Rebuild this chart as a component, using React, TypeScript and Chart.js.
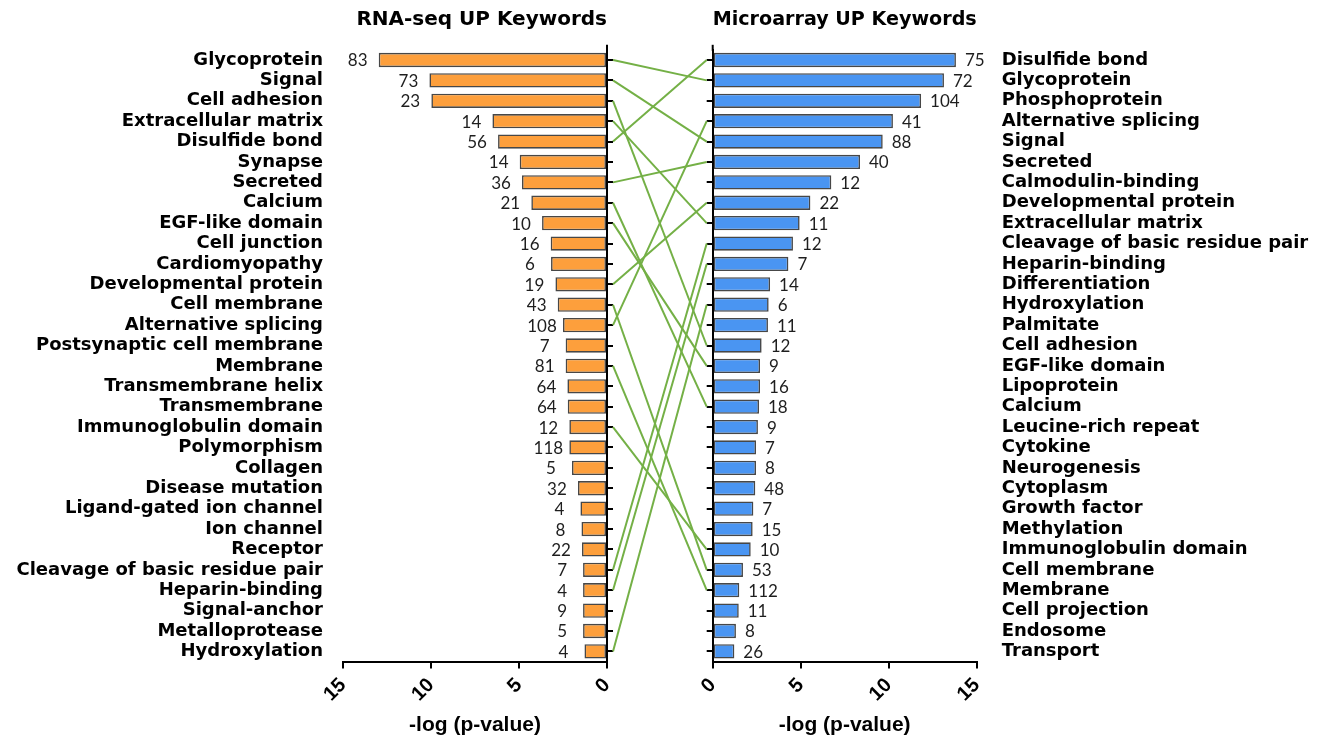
import React, { useEffect, useRef } from 'react';
import { Chart, registerables } from 'chart.js';

Chart.register(...registerables);

const leftKeywords = [
  'Glycoprotein', 'Signal', 'Cell adhesion', 'Extracellular matrix', 'Disulfide bond',
  'Synapse', 'Secreted', 'Calcium', 'EGF-like domain', 'Cell junction',
  'Cardiomyopathy', 'Developmental protein', 'Cell membrane', 'Alternative splicing', 'Postsynaptic cell membrane',
  'Membrane', 'Transmembrane helix', 'Transmembrane', 'Immunoglobulin domain', 'Polymorphism',
  'Collagen', 'Disease mutation', 'Ligand-gated ion channel', 'Ion channel', 'Receptor',
  'Cleavage of basic residue pair', 'Heparin-binding', 'Signal-anchor', 'Metalloprotease', 'Hydroxylation',
];
const leftValues = [
  12.97, 10.09, 9.98, 6.51, 6.19, 4.96, 4.83, 4.3, 3.69, 3.2,
  3.18, 2.93, 2.8, 2.5, 2.35, 2.35, 2.25, 2.23, 2.14, 2.14,
  1.99, 1.65, 1.51, 1.45, 1.42, 1.36, 1.36, 1.36, 1.36, 1.28,
];
const leftCounts = [
  83, 73, 23, 14, 56, 14, 36, 21, 10, 16,
  6, 19, 43, 108, 7, 81, 64, 64, 12, 118,
  5, 32, 4, 8, 22, 7, 4, 9, 5, 4,
];

const rightKeywords = [
  'Disulfide bond', 'Glycoprotein', 'Phosphoprotein', 'Alternative splicing', 'Signal',
  'Secreted', 'Calmodulin-binding', 'Developmental protein', 'Extracellular matrix', 'Cleavage of basic residue pair',
  'Heparin-binding', 'Differentiation', 'Hydroxylation', 'Palmitate', 'Cell adhesion',
  'EGF-like domain', 'Lipoprotein', 'Calcium', 'Leucine-rich repeat', 'Cytokine',
  'Neurogenesis', 'Cytoplasm', 'Growth factor', 'Methylation', 'Immunoglobulin domain',
  'Cell membrane', 'Membrane', 'Cell projection', 'Endosome', 'Transport',
];
const rightValues = [
  13.82, 13.14, 11.84, 10.24, 9.66, 8.37, 6.74, 5.55, 4.94, 4.56,
  4.3, 3.26, 3.18, 3.14, 2.78, 2.69, 2.69, 2.63, 2.57, 2.46,
  2.46, 2.42, 2.31, 2.27, 2.16, 1.72, 1.51, 1.48, 1.32, 1.23,
];
const rightCounts = [
  75, 72, 104, 41, 88, 40, 12, 22, 11, 12,
  7, 14, 6, 11, 12, 9, 16, 18, 9, 7,
  8, 48, 7, 15, 10, 53, 112, 11, 8, 26,
];

const xTicks = [0, 5, 10, 15];

const H = 741;
const LEFT_W = 640;
const RIGHT_X = 600;
const RIGHT_W = 729;
const AREA_BOTTOM = 661.6;

const labelFont = { family: 'DejaVu Sans', weight: 'bold' as const, size: 18 };
const tickFont = { family: 'Liberation Sans', weight: 'bold' as const, size: 20 };
const titleFont = { family: 'DejaVu Sans', weight: 'bold' as const, size: 20 };
const axisTitleFont = { family: 'Liberation Sans', weight: 'bold' as const, size: 21 };

function xScale(reverse: boolean) {
  return {
    type: 'linear' as const,
    position: 'bottom' as const,
    min: 0,
    max: 15,
    reverse,
    afterBuildTicks: (s: any) => {
      s.ticks = xTicks.map((v) => ({ value: v }));
    },
    ticks: {
      minRotation: 45,
      maxRotation: 45,
      padding: 5,
      font: tickFont,
      color: '#000',
    },
    grid: { drawOnChartArea: false, drawTicks: true, tickLength: 7, color: '#000', lineWidth: 2 },
    border: { display: true, color: '#000', width: 2 },
    title: {
      display: true,
      text: '-log (p-value)',
      font: axisTitleFont,
      color: '#000',
      padding: { top: 0, bottom: 3 },
    },
    afterFit: (s: any) => {
      s.height = H - AREA_BOTTOM;
    },
  };
}

function axisScale(position: 'left' | 'right', width: number) {
  return {
    type: 'category' as const,
    position,
    offset: true,
    grid: { offset: false, drawOnChartArea: false, drawTicks: true, tickLength: 6, color: '#000', lineWidth: 2 },
    ticks: { display: false, autoSkip: false },
    border: { display: true, color: '#000', width: 2 },
    afterFit: (s: any) => {
      s.width = width;
    },
  };
}

function labelScale(position: 'left' | 'right', width: number, padding: number) {
  return {
    type: 'category' as const,
    position,
    offset: true,
    grid: { display: false, drawTicks: false },
    border: { display: false },
    ticks: { autoSkip: false, padding, font: labelFont, color: '#000' },
    afterFit: (s: any) => {
      s.width = width;
    },
  };
}

function valueLabelPlugin(counts: number[], side: 'left' | 'right') {
  return {
    id: 'valueLabels',
    afterDatasetsDraw(chart: any) {
      const ctx = chart.ctx;
      const meta = chart.getDatasetMeta(0);
      ctx.save();
      ctx.font = '17px Lato';
      ctx.fillStyle = '#1e1e1e';
      ctx.textBaseline = 'middle';
      meta.data.forEach((bar: any, i: number) => {
        const { x, y } = bar.getProps(['x', 'y'], true);
        if (side === 'left') {
          ctx.textAlign = 'center';
          ctx.fillText(String(counts[i]), x - 21, y + 1);
        } else {
          ctx.textAlign = 'left';
          ctx.fillText(String(counts[i]), x + 9, y + 1);
        }
      });
      ctx.restore();
    },
  };
}

function axisExtendPlugin(side: 'left' | 'right') {
  return {
    id: 'axisExtend',
    afterDraw(chart: any) {
      const ctx = chart.ctx;
      const a = chart.chartArea;
      const x = side === 'left' ? a.right : a.left;
      ctx.save();
      ctx.strokeStyle = '#000';
      ctx.lineWidth = 2;
      ctx.beginPath();
      ctx.moveTo(x, a.top - 5);
      ctx.lineTo(x, a.top + 1);
      ctx.stroke();
      ctx.restore();
    },
  };
}

function linkPlugin(getLeft: () => any) {
  return {
    id: 'links',
    afterDraw(chart: any) {
      const left = getLeft();
      if (!left) return;
      const ly = left.scales.y;
      const ry = chart.scales.y;
      const x1 = ly.left + 6 - RIGHT_X;
      const x2 = ry.right - 6;
      const ctx = chart.ctx;
      ctx.save();
      ctx.strokeStyle = '#74B046';
      ctx.lineWidth = 2;
      leftKeywords.forEach((k, i) => {
        const j = rightKeywords.indexOf(k);
        if (j < 0) return;
        ctx.beginPath();
        ctx.moveTo(x1, ly.getPixelForValue(i));
        ctx.lineTo(x2, ry.getPixelForValue(j));
        ctx.stroke();
      });
      ctx.restore();
    },
  };
}

export default function App() {
  const leftRef = useRef<HTMLCanvasElement>(null);
  const rightRef = useRef<HTMLCanvasElement>(null);

  useEffect(() => {
    if (!leftRef.current || !rightRef.current) return;
    const left = new Chart(leftRef.current, {
      type: 'bar',
      data: {
        labels: leftKeywords,
        datasets: [
          {
            data: leftValues,
            backgroundColor: '#FD9F3C',
            borderColor: '#474747',
            borderWidth: 1.6,
            borderSkipped: false,
            barPercentage: 0.7,
            categoryPercentage: 1,
            xAxisID: 'x',
            yAxisID: 'y',
          },
        ],
      },
      options: {
        indexAxis: 'y',
        responsive: false,
        animation: false,
        layout: { padding: 0 },
        plugins: {
          legend: { display: false },
          tooltip: { enabled: false },
          title: {
            display: true,
            text: 'RNA-seq UP Keywords',
            align: 'end',
            fullSize: false,
            font: titleFont,
            color: '#000',
            padding: { top: 8, bottom: 17.8 },
          },
        },
        scales: {
          x: xScale(true),
          yl: labelScale('left', 343, 20),
          y: axisScale('right', LEFT_W - 607),
        },
      } as any,
      plugins: [valueLabelPlugin(leftCounts, 'left'), axisExtendPlugin('left')],
    });

    const right = new Chart(rightRef.current, {
      type: 'bar',
      data: {
        labels: rightKeywords,
        datasets: [
          {
            data: rightValues,
            backgroundColor: '#4A95F2',
            borderColor: '#474747',
            borderWidth: 1.6,
            borderSkipped: false,
            barPercentage: 0.7,
            categoryPercentage: 1,
            xAxisID: 'x',
            yAxisID: 'y',
          },
        ],
      },
      options: {
        indexAxis: 'y',
        responsive: false,
        animation: false,
        layout: { padding: 0 },
        plugins: {
          legend: { display: false },
          tooltip: { enabled: false },
          title: {
            display: true,
            text: 'Microarray UP Keywords',
            align: 'start',
            fullSize: false,
            font: titleFont,
            color: '#000',
            padding: { top: 8, bottom: 17.8 },
          },
        },
        scales: {
          x: xScale(false),
          y: axisScale('left', 712.7 - RIGHT_X),
          yr: labelScale('right', RIGHT_W - (976.7 - RIGHT_X), 25),
        },
      } as any,
      plugins: [valueLabelPlugin(rightCounts, 'right'), axisExtendPlugin('right'), linkPlugin(() => left)],
    });

    return () => {
      right.destroy();
      left.destroy();
    };
  }, []);

  return (
    <div style={{ position: 'fixed', left: 0, top: 0, width: 1329, height: H, background: '#fff' }}>
      <canvas
        ref={leftRef}
        width={LEFT_W}
        height={H}
        style={{ position: 'absolute', left: 0, top: 0, width: LEFT_W, height: H }}
      />
      <canvas
        ref={rightRef}
        width={RIGHT_W}
        height={H}
        style={{ position: 'absolute', left: RIGHT_X, top: 0, width: RIGHT_W, height: H }}
      />
    </div>
  );
}
